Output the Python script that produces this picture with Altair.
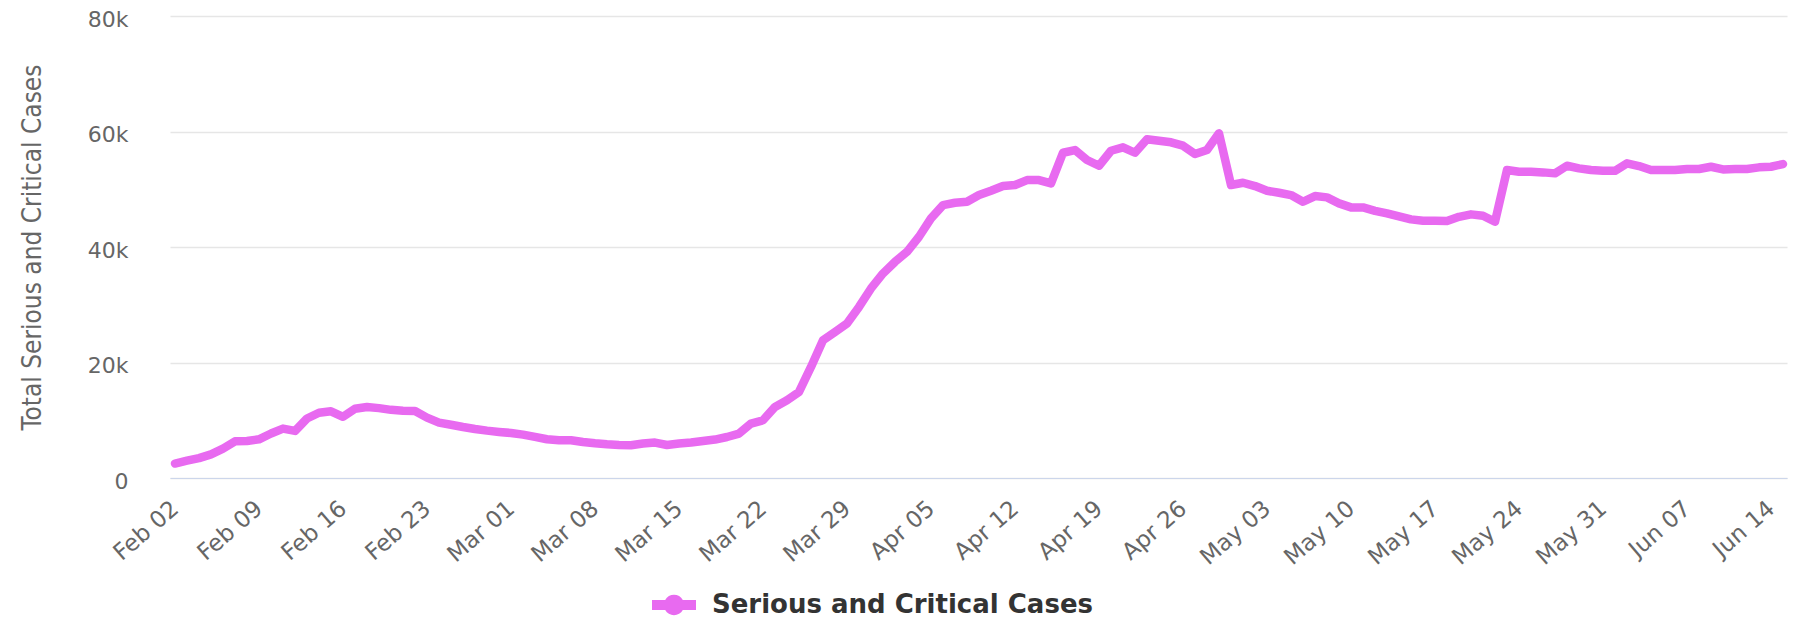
import altair as alt
import pandas as pd

start_date = "2020-02-02"
series_name = "Serious and Critical Cases"
values = [
    2500, 3000, 3450, 4100, 5100, 6350, 6400, 6700, 7700, 8550,
    8150, 10300, 11300, 11550, 10600, 12000, 12300, 12100, 11800, 11650,
    11600, 10450, 9600, 9230, 8830, 8490, 8200, 7980, 7800, 7510,
    7110, 6710, 6540, 6540, 6240, 6010, 5840, 5720, 5670, 5960,
    6135, 5720, 5960, 6135, 6410, 6650, 7100, 7690, 9430, 10000,
    12300, 13465, 14900, 19240, 23860, 25300, 26760, 29630, 32820, 35420,
    37430, 39170, 41770, 44950, 47260, 47660, 47830, 48990, 49740, 50550,
    50730, 51590, 51590, 51010, 56320, 56790, 55060, 54070, 56670, 57260,
    56320, 58650, 58400, 58130, 57540, 56100, 56790, 59680, 50730, 51130,
    50550, 49740, 49390, 48990, 47830, 48820, 48590, 47550, 46860, 46860,
    46270, 45820, 45300, 44780, 44540, 44540, 44490, 45230, 45650, 45400,
    44370, 53330, 53030, 53030, 52920, 52750, 54070, 53620, 53330, 53200,
    53200, 54480, 54020, 53330, 53330, 53330, 53500, 53500, 53900, 53440,
    53500, 53500, 53790, 53900, 54360,
]
y_ticks = [0, 20000, 40000, 60000, 80000]

dates = pd.date_range(start_date, periods=len(values), freq="D")
df = pd.DataFrame({
    "date": [d.strftime("%Y-%m-%d") for d in dates],
    "value": values,
    "series": series_name,
})

DAY = 86400000
t0 = int(pd.Timestamp(start_date, tz="UTC").timestamp() * 1000)
t_last = t0 + (len(values) - 1) * DAY
x_ticks = [t0 + 7 * k * DAY for k in range(20)]
x_domain = [t0 - 0.4167 * DAY, t_last + 0.333 * DAY]

LINE_COLOR = "#e86af0"
legend_path = ("M-1,-0.23 L-0.4,-0.23 A0.46,0.46 0 0,1 0.4,-0.23 L1,-0.23 "
               "L1,0.23 L0.4,0.23 A0.46,0.46 0 0,1 -0.4,0.23 L-1,0.23 Z")

chart = alt.Chart(df).mark_line(
    strokeWidth=8.5, strokeCap="round", strokeJoin="round"
).encode(
    x=alt.X(
        "date:T",
        scale=alt.Scale(type="utc", domain=x_domain, nice=False),
        axis=alt.Axis(
            values=x_ticks,
            labelExpr="utcFormat(datum.value, '%b %d')",
            labelAngle=-41,
            labelAlign="right",
            labelBaseline="middle",
            labelPadding=27,
            labelFont="DejaVu Sans",
            labelFontSize=23,
            labelColor="#666666",
            labelOverlap=False,
            labelBound=False,
            labelFlush=False,
            ticks=False,
            grid=False,
            domainColor="#ccd6eb",
            domainWidth=1,
            title=None,
        ),
    ),
    y=alt.Y(
        "value:Q",
        scale=alt.Scale(domain=[0, 80000], nice=False),
        axis=alt.Axis(
            values=y_ticks,
            labelExpr="datum.value == 0 ? '0' : format(datum.value / 1000, 'd') + 'k'",
            labelFont="DejaVu Sans",
            labelFontSize=22,
            labelColor="#666666",
            labelPadding=42,
            labelOffset=3,
            labelBaseline="middle",
            ticks=False,
            domain=False,
            grid=True,
            gridColor="#e6e6e6",
            gridWidth=1.5,
            title="Total Serious and Critical Cases",
            titleFont="Liberation Sans Narrow, DejaVu Sans Condensed, sans-serif",
            titleFontSize=26,
            titleFontWeight="normal",
            titleColor="#666666",
            titleAngle=-90,
            titleAlign="center",
            titleBaseline="bottom",
            titleX=-125,
            titleY=231,
        ),
    ),
    color=alt.Color(
        "series:N",
        scale=alt.Scale(range=[LINE_COLOR]),
        legend=alt.Legend(
            title=None,
            orient="none",
            legendX=482,
            legendY=567,
            padding=0,
            symbolType=legend_path,
            symbolSize=1936,
            symbolStrokeWidth=0,
            symbolFillColor=LINE_COLOR,
            labelFont="DejaVu Sans",
            labelFontSize=26,
            labelFontWeight="bold",
            labelColor="#333333",
            labelOffset=16,
            labelLimit=0,
        ),
    ),
).properties(
    width=1617,
    height=462,
    autosize=alt.AutoSizeParams(type="none"),
    padding={"left": 162, "top": 8, "right": 5, "bottom": 143},
    background="white",
).configure_view(stroke=None)

chart.save("out.html", embed_options={"renderer": "svg", "actions": False})
